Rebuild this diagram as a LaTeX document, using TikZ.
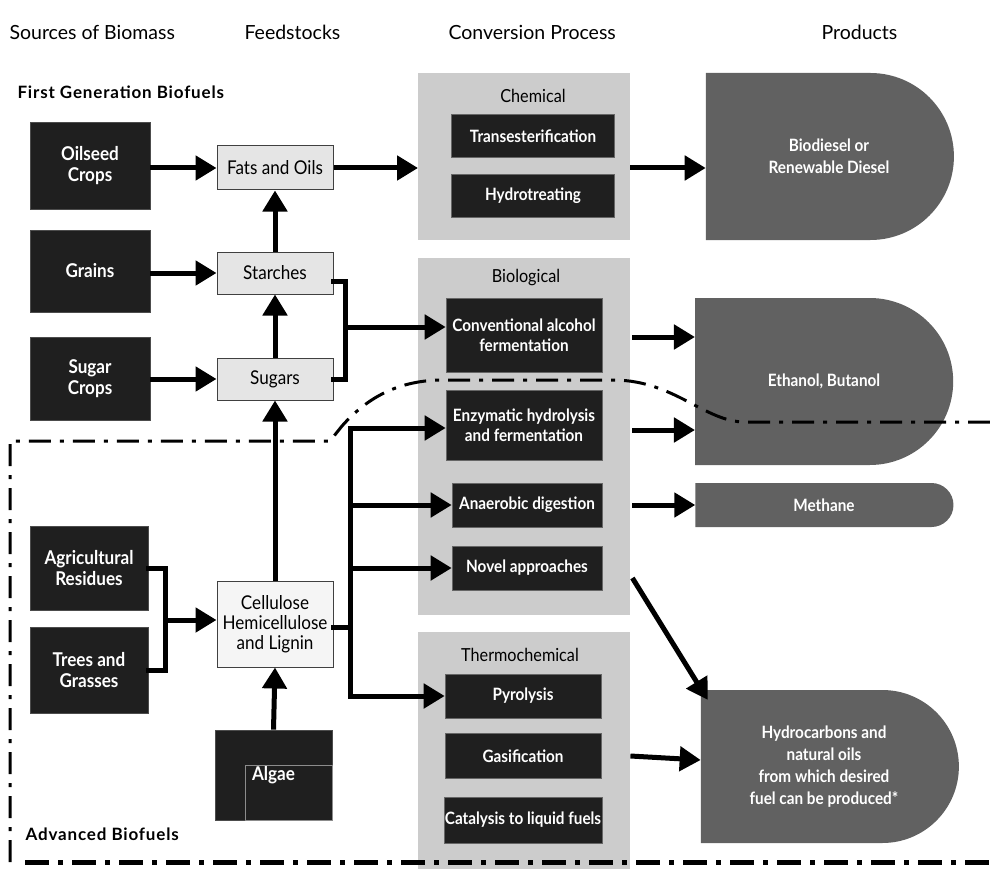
\documentclass[tikz,border=0pt]{standalone}
\usepackage{fontspec}
\setmainfont{Lato}
\newfontfamily\condfont[FakeStretch=0.9]{Lato}
\newfontfamily\grpfont[LetterSpace=5]{Lato}
\usetikzlibrary{arrows.meta,shapes.misc,calc}

\begin{document}
\begin{tikzpicture}[x=1pt,y=-1pt,
  hdr/.style={font=\fontsize{19.5}{22}\selectfont, anchor=west},
  grp/.style={font=\grpfont\bfseries\fontsize{17}{19}\selectfont, anchor=west},
  src/.style={draw=black!70, fill=black!88, text=white, align=center,
    font=\condfont\bfseries\fontsize{19}{21}\selectfont, line width=0.8pt, inner sep=2pt},
  feed/.style={draw=black!75, fill=black!10, align=center,
    font=\condfont\fontsize{19}{20}\selectfont, line width=1pt, minimum width=116pt, inner sep=1pt},
  panel/.style={fill=black!20, draw=none, anchor=north west, minimum width=212pt},
  plabel/.style={font=\condfont\fontsize{18}{20}\selectfont},
  proc/.style={fill=black!88, draw=black!60, line width=0.6pt, text=white, align=center,
    font=\condfont\bfseries\fontsize{17}{20}\selectfont, inner sep=1pt},
  prod/.style={rounded rectangle, rounded rectangle left arc=none, fill=black!62,
    text=white, align=center, font=\condfont\bfseries\fontsize{17}{22}\selectfont, inner sep=2pt},
  arr/.style={line width=5pt, -{Triangle[length=21pt,width=24pt]}},
  link/.style={line width=5pt, line cap=rect},
  bound/.style={line width=3pt, dash pattern=on 22pt off 9pt on 4pt off 9pt},
]
\useasboundingbox (0,0) rectangle (990,869);

% column headings
\node[hdr] (hsrc) at (6,32) {Sources of Biomass};
\node[hdr] (hfeed) at (241,32) {Feedstocks};
\node[hdr] (hconv) at (445,32) {Conversion Process};
\node[hdr] (hprod) at (818,32) {Products};
\node[grp] (gfirst) at (14,92) {First Generation Biofuels};
\node[grp] (gadv) at (22,834) {Advanced Biofuels};

% conversion panels
\node[panel, minimum height=167pt] (chem) at (418,73) {};
\node[panel, minimum height=357pt] (biol) at (418,258) {};
\node[panel, minimum height=237pt] (therm) at (418,632) {};
\node[plabel] (lchem) at (533,96) {Chemical};
\node[plabel] (lbiol) at (526,278) {Biological};
\node[plabel] (ltherm) at (520,655) {Thermochemical};

% sources
\node[src, minimum width=120pt, minimum height=87pt] (oil) at (90,166) {Oilseed\\Crops};
\node[src, minimum width=120pt, minimum height=82pt] (grain) at (90,271) {Grains};
\node[src, minimum width=120pt, minimum height=83pt] (sugc) at (90,379) {Sugar\\Crops};
\node[src, minimum width=118pt, minimum height=84pt] (agri) at (89,568) {Agricultural\\Residues};
\node[src, minimum width=118pt, minimum height=86pt] (trees) at (89,670) {Trees and\\Grasses};
\node[src, minimum width=117pt, minimum height=90pt] (algae) at (273.5,775) {Algae};
\draw[black!45, line width=0.6pt] (245,765) rectangle (332,820);

% feedstocks
\node[feed, minimum height=44pt] (fats) at (275,168) {Fats and Oils};
\node[feed, minimum height=42pt] (starch) at (275,273) {Starches};
\node[feed, minimum height=42pt] (sug) at (275,379) {Sugars};
\node[feed, minimum height=86pt, fill=black!4] (cell) at (275,624)
  {Cellulose\\Hemicellulose\\and Lignin};

% processes
\node[proc, minimum width=163pt, minimum height=43pt] (trans) at (533,136) {Transesterification};
\node[proc, minimum width=163pt, minimum height=43pt] (hydro) at (533,196) {Hydrotreating};
\node[proc, minimum width=156pt, minimum height=74pt] (conv) at (524,335) {Conventional alcohol\\fermentation};
\node[proc, minimum width=156pt, minimum height=70pt] (enz) at (524,425) {Enzymatic hydrolysis\\and fermentation};
\node[proc, minimum width=150pt, minimum height=44pt] (anae) at (527,505) {Anaerobic digestion};
\node[proc, minimum width=150pt, minimum height=44pt] (novel) at (527,568) {Novel approaches};
\node[proc, minimum width=156pt, minimum height=44pt] (pyro) at (523,696) {Pyrolysis};
\node[proc, minimum width=156pt, minimum height=45pt] (gas) at (523,756) {Gasification};
\node[proc, minimum width=156pt, minimum height=46pt] (cat) at (523,820) {Catalysis to liquid fuels};

% products
\node[prod, minimum width=252pt, minimum height=167pt] (diesel) at (829,156.5) {Biodiesel or\\Renewable Diesel};
\node[prod, minimum width=262pt, minimum height=167pt] (eth) at (824,381.5) {Ethanol, Butanol};
\node[prod, minimum width=262pt, minimum height=44pt] (meth) at (824,505) {Methane};
\node[prod, minimum width=262pt, minimum height=153pt] (hyd) at (824,766.5)
  {Hydrocarbons and\\natural oils\\from which desired\\fuel can be produced*};

% first generation flows
\draw[arr] (oil.east |- fats) -- (fats.west);
\draw[arr] (grain.east |- starch) -- (starch.west);
\draw[arr] (sugc.east |- sug) -- (sug.west);
\draw[arr] (starch.north) -- (fats.south);
\draw[arr] (sug.north) -- (starch.south);
\draw[arr] (fats.east) -- (fats.east -| chem.west);
\coordinate (bj) at (345,327);
\draw[link] ($(starch.east)+(0,8)$) -| (bj) |- (sug.east);
\draw[arr] (bj) -- (bj -| conv.west);

% advanced flows
\coordinate (aj) at (165,620);
\draw[link] (agri.east) -| (aj) |- (trees.east);
\draw[arr] (aj) -- (aj -| cell.west);
\draw[arr] (algae.north) -- (cell.south);
\draw[arr] (cell.north) -- (sug.south);
\coordinate (ct) at (350,627);
\draw[link] (cell.east |- ct) -- (ct);
\draw[link] ($(ct |- enz)+(0,3)$) -- (ct |- pyro);
\draw[arr] ($(ct |- enz)+(0,3)$) -- ($(enz.west)+(0,3)$);
\draw[arr] (ct |- anae) -- (anae.west);
\draw[arr] (ct |- novel) -- (novel.west);
\draw[arr] (ct |- pyro) -- (pyro.west);

% conversion to products
\draw[arr] (chem.east |- fats) -- (diesel.west |- fats);
\draw[arr] ($(biol.east |- conv)+(2,2)$) -- ($(eth.west |- conv)+(0,2)$);
\draw[arr] ($(biol.east |- enz)+(2,5)$) -- ($(eth.west |- enz)+(0,5)$);
\draw[arr] ($(biol.east |- anae)+(2,0)$) -- (meth.west);
\draw[arr] ($(biol.east |- novel)+(2,10)$) -- ($(hyd.north west)+(7,10)$);
\draw[arr] (therm.east |- gas) -- ($(hyd.west |- gas)+(0,4)$);

% boundary between first generation and advanced biofuels
\draw[bound] (990,422) -- (745,422)
  .. controls (705,422) and (675,381) .. (615,380) -- (440,380)
  .. controls (395,381) and (365,400) .. (342,426) -- (330,441) -- (10,441) -- (10,869);
\draw[line width=5pt, dash pattern=on 24pt off 9pt on 5pt off 9pt] (25,862) -- (990,862);
\end{tikzpicture}
\end{document}
